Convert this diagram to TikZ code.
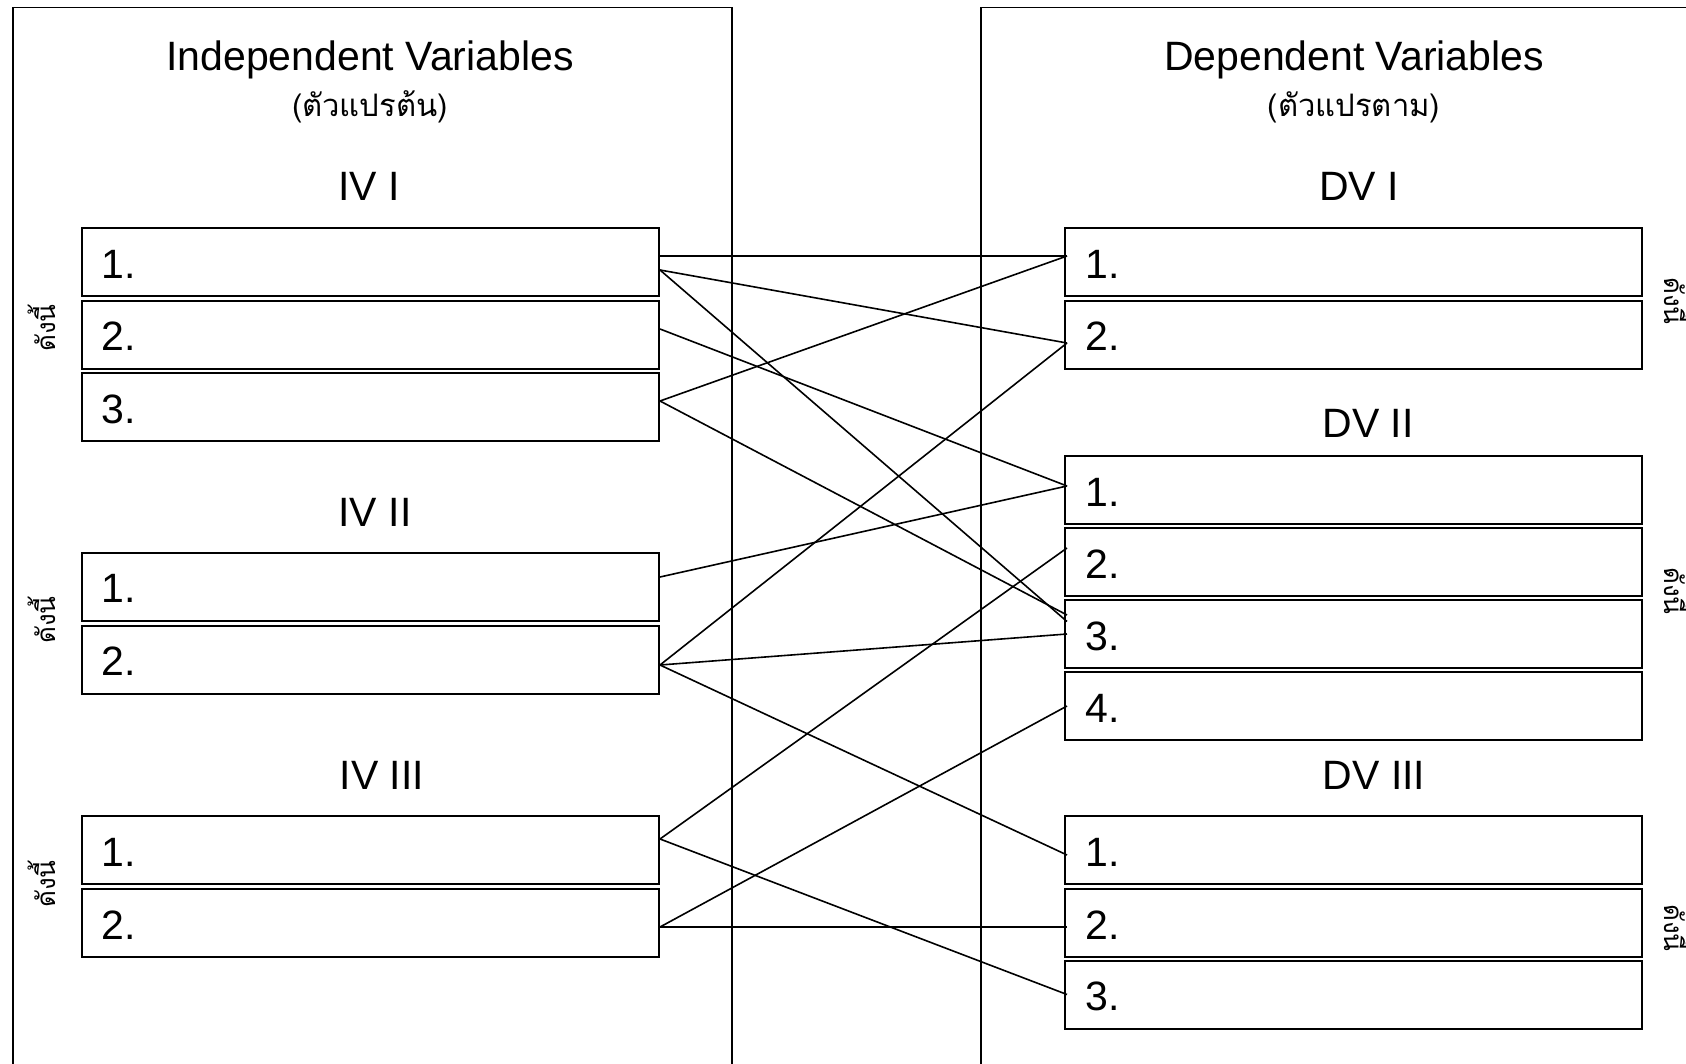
\documentclass[tikz,border=0pt]{standalone}
\usepackage{fontspec}
\setmainfont{Liberation Sans}
\newfontfamily\thaifont[Script=Thai]{Loma}
\usetikzlibrary{calc}
\tikzset{
  bigframe/.style={draw, line width=0.8pt},
  rowbox/.style={draw, line width=1pt, minimum width=288.5pt, minimum height=34pt, inner sep=0pt},
  rowlabel/.style={anchor=west, inner sep=0pt, font=\fontsize{20.5}{24}\selectfont},
  title/.style={inner sep=0pt, font=\fontsize{20.5}{24}\selectfont},
  thaititle/.style={inner sep=0pt, font=\thaifont\fontsize{15.5}{18}\selectfont},
  sidelabel/.style={inner sep=0pt, anchor=base, font=\thaifont\fontsize{13}{16}\selectfont},
  link/.style={line width=0.8pt}
}
\begin{document}
\begin{tikzpicture}[x=0.5pt,y=-0.5pt]
\clip (0,0) rectangle (1686,1064);
\fill[white] (0,0) rectangle (1686,1064);
% frames
\draw[bigframe] (13,7.5) rectangle (732,1100);
\draw[bigframe] (981,7.5) rectangle (1800,1100);
% titles
\node[title] (tL) at (370,60) {Independent Variables};
\node[thaititle] (tLt) at (370,107) {(ตัวแปรต้น)};
\node[title] (tR) at (1354,60) {Dependent Variables};
\node[thaititle] (tRt) at (1354,107) {(ตัวแปรตาม)};
\node[title] (h1) at (369,186) {IV I};
\node[title] (h2) at (375,512) {IV II};
\node[title] (h3) at (382,775) {IV III};
\node[title] (k1) at (1359,186) {DV I};
\node[title] (k2) at (1368,423) {DV II};
\node[title] (k3) at (1374,775) {DV III};
% side labels
\node[sidelabel, rotate=90] (sL1) at (55,328) {ดังนี้};
\node[sidelabel, rotate=90] (sL2) at (55,620) {ดังนี้};
\node[sidelabel, rotate=90] (sL3) at (55,884) {ดังนี้};
\node[sidelabel, rotate=-90] (sR1) at (1664,301) {ดังนี้};
\node[sidelabel, rotate=-90] (sR2) at (1664,591) {ดังนี้};
\node[sidelabel, rotate=-90] (sR3) at (1664,928) {ดังนี้};
% left boxes
\foreach \n/\y/\t in {a1/262/1., a2/334.5/2., a3/407/3., b1/586.5/1., b2/659.5/2., c1/850/1., c2/923/2.}{
  \node[rowbox] (\n) at (370.5,\y) {};
  \node[rowlabel] (\n t) at (101,\y+2) {\t};
}
% right boxes
\foreach \n/\y/\t in {d1/262/1., d2/334.5/2., e1/490/1., e2/562/2., e3/634/3., e4/706/4., f1/850/1., f2/923/2., f3/994.5/3.}{
  \node[rowbox] (\n) at (1353.5,\y) {};
  \node[rowlabel] (\n t) at (1085,\y+2) {\t};
}
% connectors
\draw[link] ([yshift=3pt]a1.east) -- ([xshift=1.5pt,yshift=3pt]d1.west);
\draw[link] ([yshift=-4pt]a1.east) -- ([xshift=1.5pt,yshift=-4.25pt]d2.west);
\draw[link] ([yshift=-4pt]a1.east) -- ([xshift=1.5pt,yshift=6.25pt]e3.west);
\draw[link] ([yshift=2.75pt]a2.east) -- ([xshift=1.5pt,yshift=2pt]e1.west);
\draw[link] ([yshift=3pt]a3.east) -- ([xshift=1.5pt,yshift=3pt]d1.west);
\draw[link] ([yshift=3pt]a3.east) -- ([xshift=1.5pt,yshift=9.5pt]e3.west);
\draw[link] ([yshift=4.75pt]b1.east) -- ([xshift=1.5pt,yshift=2pt]e1.west);
\draw[link] ([yshift=-2.75pt]b2.east) -- ([xshift=1.5pt,yshift=-4.25pt]d2.west);
\draw[link] ([yshift=-2.75pt]b2.east) -- ([xshift=1.5pt]e3.west);
\draw[link] ([yshift=-2.75pt]b2.east) -- ([xshift=1.5pt,yshift=-2.5pt]f1.west);
\draw[link] ([yshift=5.5pt]c1.east) -- ([xshift=1.5pt,yshift=7pt]e2.west);
\draw[link] ([yshift=5.5pt]c1.east) -- ([xshift=1.5pt]f3.west);
\draw[link] ([yshift=-2pt]c2.east) -- ([xshift=1.5pt]e4.west);
\draw[link] ([yshift=-2pt]c2.east) -- ([xshift=1.5pt,yshift=-2pt]f2.west);
\end{tikzpicture}
\end{document}
